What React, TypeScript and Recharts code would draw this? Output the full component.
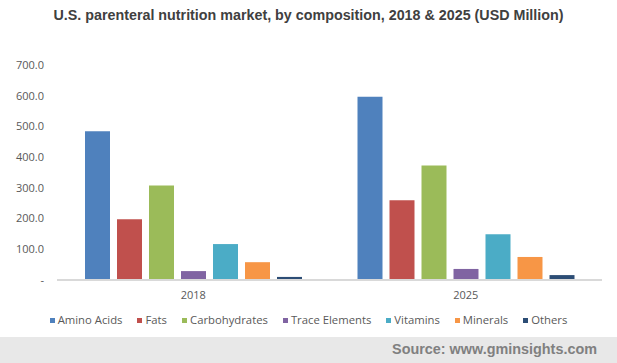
import React from 'react'
import { BarChart, Bar, XAxis, YAxis } from 'recharts'

// Market size by composition, USD million
const years = ['2018', '2025']
const aminoAcids = [484, 597]
const fats = [198, 260]
const carbohydrates = [308, 373]
const traceElements = [29, 36]
const vitamins = [117, 149]
const minerals = [58, 75]
const others = [10, 16]

const yTicks = [0, 100, 200, 300, 400, 500, 600, 700]

const series = [
  { key: 'aminoAcids', name: 'Amino Acids', color: '#4f81bd', values: aminoAcids },
  { key: 'fats', name: 'Fats', color: '#c0504d', values: fats },
  { key: 'carbohydrates', name: 'Carbohydrates', color: '#9bbb59', values: carbohydrates },
  { key: 'traceElements', name: 'Trace Elements', color: '#8064a2', values: traceElements },
  { key: 'vitamins', name: 'Vitamins', color: '#4bacc6', values: vitamins },
  { key: 'minerals', name: 'Minerals', color: '#f79646', values: minerals },
  { key: 'others', name: 'Others', color: '#2c4d75', values: others },
]

const data = years.map((year, i) => {
  const row: Record<string, any> = { year }
  series.forEach((s) => {
    row[s.key] = s.values[i]
  })
  return row
})

const TEXT_FONT = '"Open Sans", "DejaVu Sans", sans-serif'
const TITLE_FONT = '"Liberation Sans", Arial, sans-serif'

export default function App() {
  return (
    <div
      style={{
        position: 'absolute',
        top: 0,
        left: 0,
        width: 617,
        height: 363,
        background: '#ffffff',
        overflow: 'hidden',
      }}
    >
      <div
        style={{
          position: 'absolute',
          top: 6,
          left: 0,
          width: 617,
          textAlign: 'center',
          fontFamily: TITLE_FONT,
          fontWeight: 'bold',
          fontSize: 14.3,
          lineHeight: '18px',
          color: '#404040',
        }}
      >
        U.S. parenteral nutrition market, by composition, 2018 &amp; 2025 (USD Million)
      </div>

      <BarChart
        width={617}
        height={363}
        data={data}
        margin={{ top: 65, right: 15, bottom: 53, left: 0 }}
        barSize={25}
        barGap={7}
        style={{ position: 'absolute', top: 0, left: 0 }}
      >
        <XAxis
          dataKey="year"
          height={30}
          axisLine={{ stroke: '#d9d9d9', strokeWidth: 2 }}
          tickLine={false}
          tickSize={6}
          tickMargin={5}
          tick={{ fill: '#595959', fontSize: 11, fontFamily: TEXT_FONT }}
        />
        <YAxis
          width={57}
          domain={[0, 700]}
          ticks={yTicks}
          axisLine={false}
          tickLine={false}
          tickSize={6}
          tickMargin={7}
          tick={{ fill: '#595959', fontSize: 11, fontFamily: TEXT_FONT }}
          tickFormatter={(v: number) => (v === 0 ? '-' : v.toFixed(1))}
        />
        {series.map((s) => (
          <Bar
            key={s.key}
            dataKey={s.key}
            name={s.name}
            fill={s.color}
            isAnimationActive={false}
          />
        ))}
      </BarChart>

      <div
        style={{
          position: 'absolute',
          top: 312,
          left: 0,
          width: 617,
          display: 'flex',
          justifyContent: 'center',
          gap: 15,
          fontFamily: TEXT_FONT,
          fontSize: 11.3,
          lineHeight: '16px',
          color: '#595959',
        }}
      >
        {series.map((s) => (
          <div key={s.key} style={{ display: 'flex', alignItems: 'center', gap: 3 }}>
            <div style={{ width: 5, height: 5, background: s.color }} />
            <span>{s.name}</span>
          </div>
        ))}
      </div>

      <div
        style={{
          position: 'absolute',
          top: 337,
          left: 0,
          width: 617,
          height: 26,
          background: '#e8e8e8',
          boxSizing: 'border-box',
          paddingRight: 20,
          textAlign: 'right',
          fontFamily: TITLE_FONT,
          fontWeight: 'bold',
          fontSize: 14.4,
          lineHeight: '24px',
          color: '#808080',
        }}
      >
        Source: www.gminsights.com
      </div>
    </div>
  )
}
